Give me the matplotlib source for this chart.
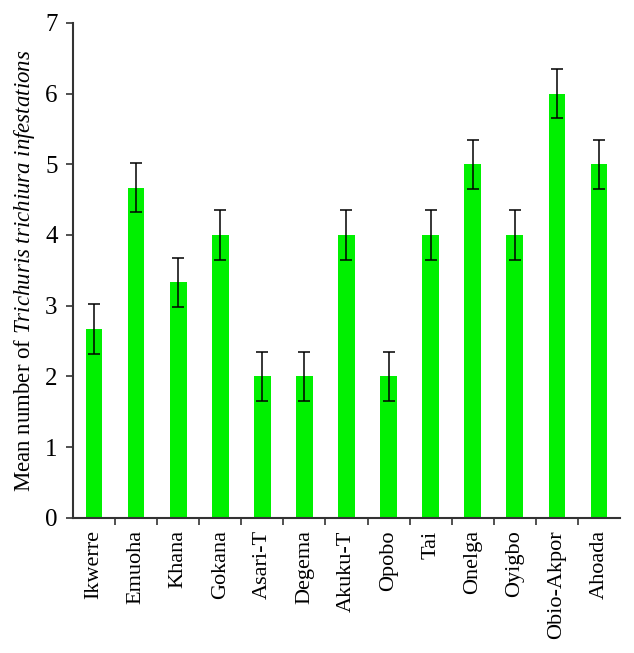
import numpy as np
import matplotlib
matplotlib.use('Agg')
import matplotlib.pyplot as plt

# data
regions = ['Ikwerre', 'Emuoha', 'Khana', 'Gokana', 'Asari-T', 'Degema', 'Akuku-T',
           'Opobo', 'Tai', 'Onelga', 'Oyigbo', 'Obio-Akpor', 'Ahoada']
mean_inf = [2.67, 4.67, 3.33, 4.0, 2.0, 2.0, 4.0, 2.0, 4.0, 5.0, 4.0, 6.0, 5.0]
err_inf = [0.35, 0.35, 0.35, 0.35, 0.35, 0.35, 0.35, 0.35, 0.35, 0.35, 0.35, 0.35, 0.35]

plt.rcParams['font.family'] = 'Liberation Serif'
plt.rcParams['mathtext.fontset'] = 'custom'
plt.rcParams['mathtext.rm'] = 'Liberation Serif'
plt.rcParams['mathtext.it'] = 'Liberation Serif:italic'

fig = plt.figure(figsize=(6.34, 6.53), dpi=100)
ax = fig.add_axes([0.115, 0.207, 0.863, 0.758])

idx = np.arange(len(regions))
ax.bar(idx, mean_inf, width=0.4, color='#00f000', yerr=err_inf,
       error_kw={'ecolor': 'black', 'elinewidth': 1.1, 'capsize': 4, 'capthick': 1.1})

ax.set_xlim(-0.5, len(regions) - 0.5)
ax.set_ylim(0, 7)
ax.set_yticks(range(8))
ax.set_xticks(idx)
ax.set_xticklabels(regions, rotation=90, fontsize=16)
ax.set_xticks(np.arange(0.5, len(regions) - 0.5), minor=True)
ax.tick_params(axis='x', which='major', length=0, pad=9)
ax.tick_params(axis='x', which='minor', length=5, width=1.2, color='#333333', direction='out')
ax.tick_params(axis='y', length=5, width=1.2, color='#333333', labelsize=18, pad=6)

for s in ['top', 'right']:
    ax.spines[s].set_visible(False)
for s in ['left', 'bottom']:
    ax.spines[s].set_linewidth(1.5)
    ax.spines[s].set_color('#333333')

ax.set_ylabel(r'Mean number of $\it{Trichuris\ trichiura\ infestations}$', fontsize=16.5, labelpad=6)

fig.savefig('out.png', dpi=100)
